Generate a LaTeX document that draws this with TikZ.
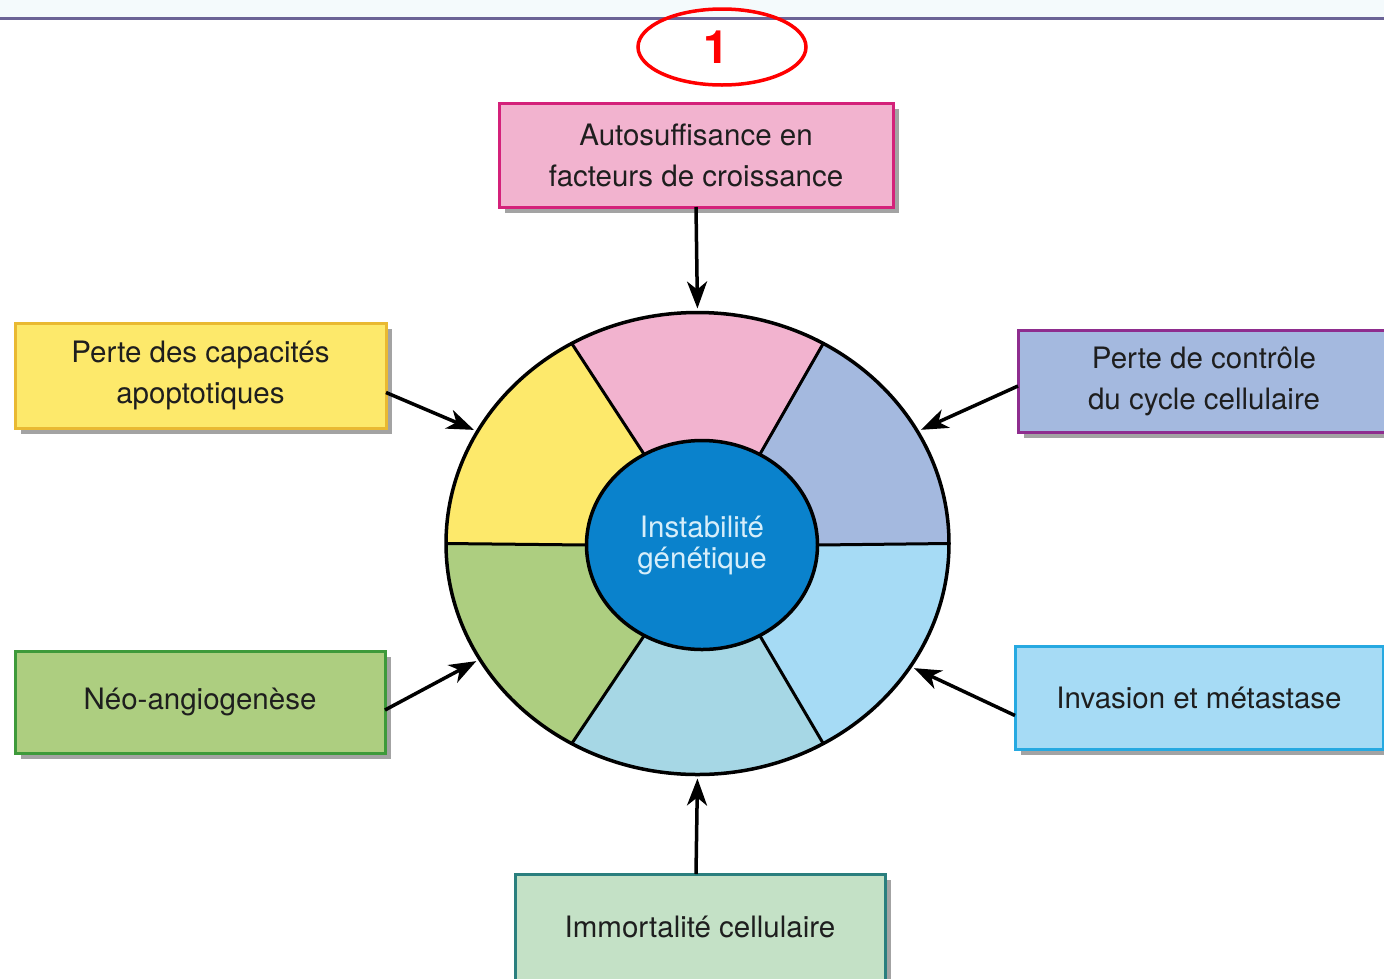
\documentclass[tikz,border=0pt]{standalone}
\usepackage{fontspec}
\setmainfont{TeX Gyre Heros}
\usetikzlibrary{shapes.geometric,shadows,arrows.meta,calc}
\definecolor{pinkF}{HTML}{F2B3CF}\definecolor{pinkD}{HTML}{D4217A}
\definecolor{yelF}{HTML}{FDE96B}\definecolor{yelD}{HTML}{E9B932}
\definecolor{lavF}{HTML}{A4B9DF}\definecolor{lavD}{HTML}{8E2D8E}
\definecolor{grnF}{HTML}{ADCE80}\definecolor{grnD}{HTML}{3E9A3A}
\definecolor{lbF}{HTML}{A6DBF5}\definecolor{lbD}{HTML}{26A9E1}
\definecolor{tealF}{HTML}{C4E1C6}\definecolor{tealD}{HTML}{2A7F7E}
\definecolor{botF}{HTML}{A6D7E5}
\definecolor{coreF}{HTML}{0A82CC}\definecolor{coreT}{HTML}{D6EEFA}
\definecolor{txt}{HTML}{1E1E1E}
\definecolor{topband}{HTML}{F4FAFC}\definecolor{topline}{HTML}{6B6396}
\begin{document}
\begin{tikzpicture}[x=1pt,y=1pt,
  box/.style={draw, line width=3pt, align=center, inner sep=0pt, outer sep=0pt,
    text=txt, font=\fontsize{29.5}{41}\selectfont,
    drop shadow={shadow xshift=6pt, shadow yshift=-6pt, fill=black!60, opacity=0.6}},
  arr/.style={line width=3.5pt, -{Stealth[length=27pt,width=20pt,inset=8pt]}, shorten >=4pt},
  divider/.style={line width=3pt}
]
\useasboundingbox (0,0) rectangle (1384,-978);
\clip (0,0) rectangle (1384,-978);
% top band
\fill[topband] (0,0) rectangle (1384,-17);
\draw[topline, line width=2.5pt] (0,-18.5) -- (1384,-18.5);
% red marker
\node[draw=red, line width=3.5pt, ellipse, minimum width=168pt, minimum height=76pt, inner sep=0pt] (mark) at (722,-47) {};
\node[text=red, font=\fontsize{46}{46}\bfseries\selectfont] (num) at (716,-47) {1};
% wheel sectors
\coordinate (oc) at (697.5,-543.5);
\coordinate (ic) at (702,-545);
\foreach \a/\b/\c in {0/60/lavF, 60/120/pinkF, 120/180/yelF, 180/240/grnF, 240/300/botF, 300/360/lbF}{
  \fill[\c] ($(oc)+(\a:251.5 and 231)$) arc[start angle=\a, end angle=\b, x radius=251.5, y radius=231]
    -- ($(ic)+(\b:115.5 and 104.5)$) arc[start angle=\b, end angle=\a, x radius=115.5, y radius=104.5] -- cycle;
}
\node[draw, ellipse, line width=3.5pt, minimum width=503pt, minimum height=462pt, inner sep=0pt, outer sep=0pt] (wheel) at (oc) {};
\foreach \a in {0,60,120,180,240,300}{
  \draw[divider] ($(ic)+(\a:115.5 and 104.5)$) -- ($(oc)+(\a:251.5 and 231)$);
}
\node[draw, fill=coreF, ellipse, line width=3.5pt, minimum width=231pt, minimum height=209pt, inner sep=0pt, outer sep=0pt,
  text=coreT, align=center, font=\fontsize{29.5}{31}\selectfont] (core) at (ic) {Instabilité\\génétique};
% boxes
\node[box, fill=pinkF, draw=pinkD, minimum width=394pt, minimum height=104pt] (auto) at (696,-155) {Autosuffisance en\\facteurs de croissance};
\node[box, fill=yelF, draw=yelD, minimum width=371pt, minimum height=105pt] (apop) at (200.5,-375.5) {Perte des capacités\\apoptotiques};
\node[box, fill=lavF, draw=lavD, minimum width=372pt, minimum height=102pt] (cycle) at (1204,-381) {Perte de contrôle\\du cycle cellulaire};
\node[box, fill=grnF, draw=grnD, minimum width=370pt, minimum height=102pt] (neo) at (200,-702) {Néo-angiogenèse};
\node[box, fill=lbF, draw=lbD, minimum width=368pt, minimum height=103pt] (inv) at (1199,-697.5) {Invasion et métastase};
\node[box, fill=tealF, draw=tealD, minimum width=370pt, minimum height=106pt] (immo) at (700,-927) {Immortalité cellulaire};
% arrows
\draw[arr] (auto.south) -- (wheel.90);
\draw[arr] ([yshift=-17pt]apop.east) -- (wheel.153);
\draw[arr] ([yshift=-5pt]cycle.west) -- (wheel.27.5);
\draw[arr] ([yshift=-8pt]neo.east) -- (wheel.208.6);
\draw[arr] ([yshift=-18pt]inv.west) -- (wheel.330.9);
\draw[arr] ([xshift=-4pt]immo.north) -- (wheel.270);
\end{tikzpicture}
\end{document}
